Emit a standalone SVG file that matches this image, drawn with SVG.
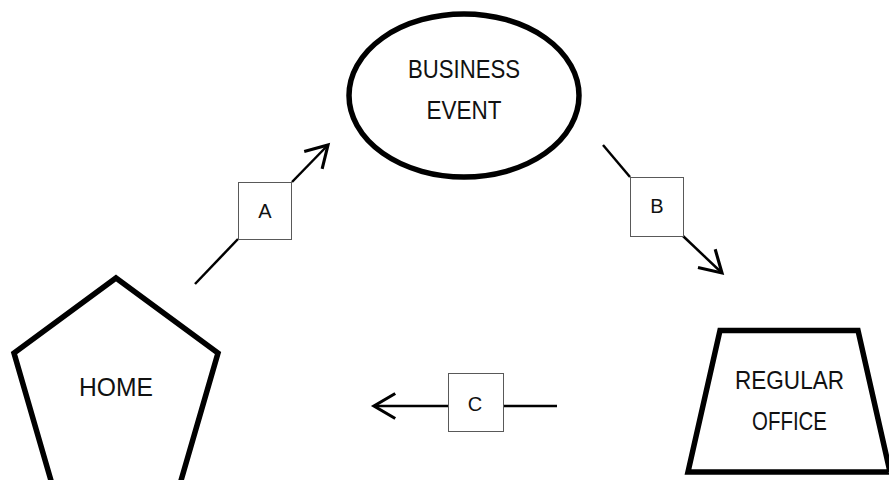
<svg xmlns="http://www.w3.org/2000/svg" width="889" height="480" viewBox="0 0 889 480">
  <defs>
    <style>
      .shape { fill: #ffffff; stroke: #000000; stroke-width: 5.5; stroke-linejoin: miter; }
      .label { font-family: "Liberation Sans", Arial, sans-serif; font-size: 25px; fill: #111111; text-anchor: middle; }
      .wire { fill: none; stroke: #000000; stroke-width: 2.5; }
      .tag { fill: #ffffff; stroke: #595959; stroke-width: 1; }
      .tag-text { font-family: "Liberation Sans", Arial, sans-serif; font-size: 20px; fill: #111111; text-anchor: middle; }
    </style>
    <marker id="open-arrow" markerUnits="userSpaceOnUse" markerWidth="30" markerHeight="30" viewBox="-20 -12 24 24" refX="0" refY="0" orient="auto">
      <path d="M-17,-10 L0,0 L-17,10" fill="none" stroke="#000000" stroke-width="2.5" stroke-linejoin="miter"/>
    </marker>
  </defs>

  <rect width="889" height="480" fill="#ffffff"/>

  <!-- connectors between the places -->
  <g id="connectors">
    <g id="flow-a">
      <line class="wire" x1="195" y1="284" x2="238" y2="239"/>
      <line class="wire" x1="292" y1="182" x2="328" y2="145" marker-end="url(#open-arrow)"/>
      <rect class="tag" x="238.5" y="182.5" width="53" height="57"/>
      <text class="tag-text" x="265" y="217.5">A</text>
    </g>
    <g id="flow-b">
      <line class="wire" x1="603" y1="145" x2="630" y2="177"/>
      <line class="wire" x1="683" y1="236" x2="722" y2="273" marker-end="url(#open-arrow)"/>
      <rect class="tag" x="630.5" y="177.5" width="53" height="59"/>
      <text class="tag-text" x="657" y="212.5">B</text>
    </g>
    <g id="flow-c">
      <line class="wire" x1="557" y1="406" x2="503" y2="406"/>
      <line class="wire" x1="448" y1="406" x2="374" y2="406" marker-end="url(#open-arrow)"/>
      <rect class="tag" x="448.5" y="373.5" width="55" height="58"/>
      <text class="tag-text" x="475" y="410.5">C</text>
    </g>
  </g>

  <!-- business event: ellipse -->
  <g id="business-event">
    <ellipse class="shape" cx="464" cy="95.5" rx="115" ry="81.5" stroke-width="4.5"/>
    <text class="label" x="464" y="77.5" textLength="112" lengthAdjust="spacingAndGlyphs">BUSINESS</text>
    <text class="label" x="464" y="118.5" textLength="75" lengthAdjust="spacingAndGlyphs">EVENT</text>
  </g>

  <!-- home: pentagon -->
  <g id="home">
    <polygon class="shape" points="116,278 218,353 180,484 52,484 14,353"/>
    <text class="label" x="116" y="395.5" textLength="74" lengthAdjust="spacingAndGlyphs">HOME</text>
  </g>

  <!-- regular office: trapezoid -->
  <g id="regular-office">
    <polygon class="shape" points="720,330.5 858,330.5 890,472 688,472"/>
    <text class="label" x="789.5" y="389" textLength="109" lengthAdjust="spacingAndGlyphs">REGULAR</text>
    <text class="label" x="789.5" y="430" textLength="75" lengthAdjust="spacingAndGlyphs">OFFICE</text>
  </g>
</svg>
